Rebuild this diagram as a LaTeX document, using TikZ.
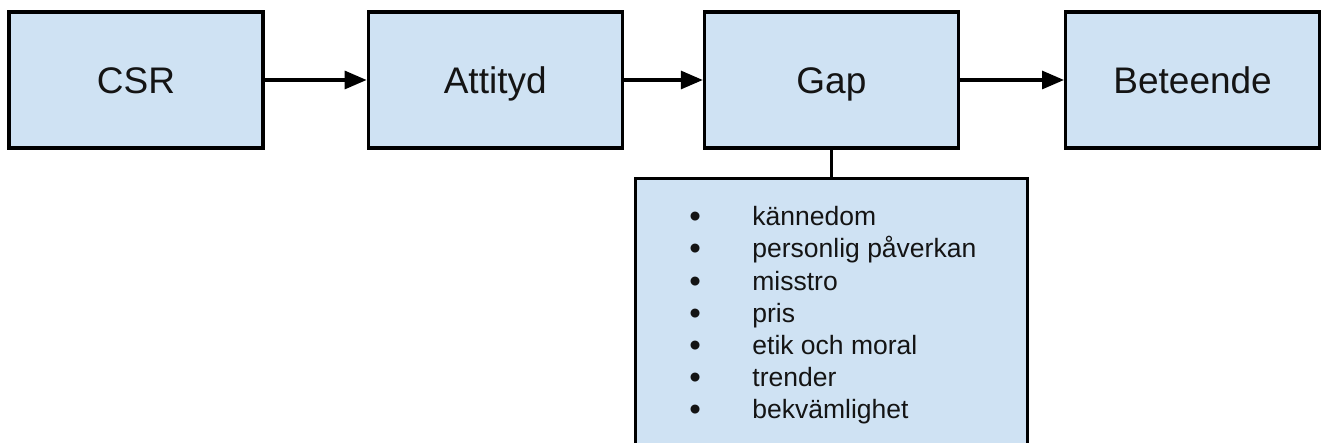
\documentclass[tikz,border=0pt]{standalone}
\usepackage{fontspec}
\setmainfont{Liberation Sans}
\usepackage{xcolor}
\usepackage{tikz}
\usetikzlibrary{matrix,positioning,arrows.meta}
\definecolor{boxblue}{HTML}{CFE2F3}
\newcommand{\punkt}{\raisebox{-2pt}{\fontsize{33}{33}\selectfont\textbullet}}

\begin{document}
\begin{tikzpicture}[x=1pt, y=1pt, line width=3.2pt, text=black!92,
	box/.style={draw, fill=boxblue, minimum width=254pt, minimum height=136pt, inner sep=0pt, text height=27pt, text depth=0pt, font=\fontsize{37}{44}\selectfont},
	pil/.style={-{Triangle[length=22pt, width=18pt]}}]
	\path[use as bounding box, clip] (0,0) rectangle (1322,-443);
	\node[box] (csr) at (136,-80) {CSR};
	\node[box, right=102pt of csr] (attityd) {Attityd};
	\node[box, right=79pt of attityd] (gap) {Gap};
	\node[box, right=104pt of gap] (beteende) {Beteende};
	\node[box, minimum width=392pt, minimum height=290pt, below=27pt of gap] (faktorer) {};
	\draw[pil] (csr) -- (attityd);
	\draw[pil] (attityd) -- (gap);
	\draw[pil] (gap) -- (beteende);
	\draw (gap) -- (faktorer);
	\matrix(m)[matrix of nodes, anchor=north west, inner sep=0pt, row sep=6.2pt, column sep=0pt, nodes={anchor=base west, inner sep=0pt, text height=20pt, text depth=6pt, font=\fontsize{26.5}{32}\selectfont}, column 1/.style={nodes={text width=63pt}}] at (687.8,-204) {
		\punkt & kännedom \\
		\punkt & personlig påverkan \\
		\punkt & misstro \\
		\punkt & pris \\
		\punkt & etik och moral \\
		\punkt & trender \\
		\punkt & bekvämlighet \\
	};
\end{tikzpicture}
\end{document}
